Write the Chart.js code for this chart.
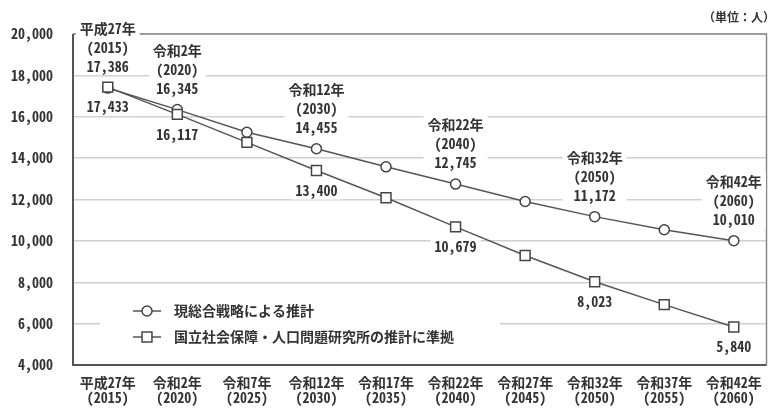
<!DOCTYPE html>
<html><head><meta charset="utf-8">
<script src="https://cdn.jsdelivr.net/npm/chart.js@4/dist/chart.umd.min.js"></script>
<style>html,body{margin:0;padding:0;background:#fff}#wrap{width:775px;height:408px}</style>
</head><body><div id="wrap"><canvas id="c" width="775" height="408"></canvas></div>
<script>
const categoryNames = ['平成27年','令和2年','令和7年','令和12年','令和17年','令和22年','令和27年','令和32年','令和37年','令和42年'];
const categoryYears = ['(2015)','(2020)','(2025)','(2030)','(2035)','(2040)','(2045)','(2050)','(2055)','(2060)'];
const years = [2015, 2020, 2025, 2030, 2035, 2040, 2045, 2050, 2055, 2060];
const seriesNames = ['現総合戦略による推計','国立社会保障・人口問題研究所の推計に準拠'];
const strategyValues = [17386, 16345, 15250, 14455, 13580, 12745, 11905, 11172, 10540, 10010];
const ipssValues = [17433, 16117, 14760, 13400, 12085, 10679, 9290, 8023, 6920, 5840];
const annotatedIndex = [0, 1, 3, 5, 7, 9];
const yMin = 4000, yMax = 20000, yStep = 2000;
const xMin = 2012.5, xMax = 2062.35;
const unitLabel = '（単位：人）';

const FONT = '"Noto Sans Mono CJK JP", "Noto Sans CJK JP", sans-serif';
const TXT = '#333';
const FS = 14;
const fmt = v => v.toLocaleString('en-US');

const pointStyles = ['circle', 'rect'];
const pointRadii = [5, 7];

const annot = {
  id: 'annot',
  beforeDatasetsDraw(chart) {
    const {ctx, chartArea: a} = chart;
    ctx.save();
    ctx.strokeStyle = '#888'; ctx.lineWidth = 1.5;
    ctx.beginPath(); ctx.moveTo(a.left, a.top); ctx.lineTo(a.right, a.top); ctx.lineTo(a.right, a.bottom); ctx.stroke();
    ctx.strokeStyle = '#555'; ctx.lineWidth = 2;
    ctx.beginPath(); ctx.moveTo(a.left, a.top); ctx.lineTo(a.left, a.bottom); ctx.lineTo(a.right, a.bottom); ctx.stroke();
    ctx.fillStyle = '#fff';
    ctx.font = `bold ${FS}px ` + FONT;
    const m0 = chart.getDatasetMeta(0), m1 = chart.getDatasetMeta(1);
    annotatedIndex.forEach(i => {
      const p = m0.data[i], q = m1.data[i];
      const w = Math.max(ctx.measureText(categoryNames[i]).width, ctx.measureText(fmt(strategyValues[i])).width) + 8;
      ctx.fillRect(p.x - w / 2, p.y - 69, w, 56);
      const w2 = ctx.measureText(fmt(ipssValues[i])).width + 8;
      ctx.fillRect(q.x - w2 / 2, q.y + 12, w2, 17);
    });
    ctx.fillRect(a.left + 27, a.bottom - 73, 400, 58);
    ctx.restore();
  },
  afterDatasetsDraw(chart) {
    const {ctx, chartArea: a} = chart;
    ctx.save();
    ctx.font = `bold ${FS}px ` + FONT;
    ctx.fillStyle = TXT;
    ctx.textAlign = 'center'; ctx.textBaseline = 'middle';
    const m0 = chart.getDatasetMeta(0), m1 = chart.getDatasetMeta(1);
    annotatedIndex.forEach(i => {
      const p = m0.data[i], q = m1.data[i];
      ctx.fillText(categoryNames[i], p.x, p.y - 59);
      ctx.fillText(categoryYears[i], p.x, p.y - 40);
      ctx.fillText(fmt(strategyValues[i]), p.x, p.y - 21);
      ctx.fillText(fmt(ipssValues[i]), q.x, q.y + 20);
    });
    ctx.font = 'bold 12px ' + FONT;
    ctx.textAlign = 'right';
    ctx.fillText(unitLabel, chart.width, 17);
    const ys = [a.bottom - 54, a.bottom - 28];
    chart.data.datasets.forEach((ds, k) => {
      const y = ys[k];
      ctx.strokeStyle = ds.borderColor; ctx.lineWidth = 1.5;
      ctx.beginPath(); ctx.moveTo(a.left + 60, y); ctx.lineTo(a.left + 88, y); ctx.stroke();
      ctx.fillStyle = '#fff'; ctx.strokeStyle = ds.pointBorderColor; ctx.lineWidth = ds.pointBorderWidth;
      Chart.helpers.drawPoint(ctx, {pointStyle: ds.pointStyle, radius: ds.pointRadius, rotation: 0, borderWidth: ds.pointBorderWidth}, a.left + 74, y);
      ctx.fillStyle = TXT; ctx.textAlign = 'left';
      ctx.font = `bold ${FS}px ` + FONT;
      ctx.fillText(ds.label, a.left + 101, y);
    });
    ctx.restore();
  }
};

new Chart(document.getElementById('c'), {
  type: 'line',
  data: {
    datasets: [strategyValues, ipssValues].map((vals, k) => ({
      label: seriesNames[k],
      data: vals.map((v, i) => ({x: years[i], y: v})),
      borderColor: '#555',
      borderWidth: 1.5,
      pointStyle: pointStyles[k],
      pointRadius: pointRadii[k],
      pointBackgroundColor: '#fff',
      pointBorderColor: '#444',
      pointBorderWidth: 1.5,
      tension: 0,
      fill: false,
      order: 1 - k
    }))
  },
  options: {
    responsive: false,
    animation: false,
    devicePixelRatio: 1,
    layout: {padding: {top: 34, right: 2, left: 0, bottom: 0}},
    plugins: {legend: {display: false}, tooltip: {enabled: false}},
    scales: {
      x: {
        type: 'linear',
        min: xMin, max: xMax,
        afterBuildTicks(s) { s.ticks = years.map(v => ({value: v})); },
        grid: {display: false, drawTicks: false},
        border: {display: false},
        ticks: {
          callback: (v, i) => [categoryNames[i], categoryYears[i]],
          font: {family: FONT, size: FS, weight: 'bold', lineHeight: 1.1},
          color: TXT, padding: 10, maxRotation: 0, autoSkip: false
        },
        afterFit(s) { s.height = 43; }
      },
      y: {
        min: yMin, max: yMax,
        ticks: {stepSize: yStep, callback: v => fmt(v), font: {family: FONT, size: FS, weight: 'bold'}, color: TXT, padding: 20},
        grid: {color: '#cfcfcf', lineWidth: 1.5, drawTicks: false},
        border: {display: false},
        afterFit(s) { s.width = 73; }
      }
    }
  },
  plugins: [annot]
});
</script>
</body></html>
